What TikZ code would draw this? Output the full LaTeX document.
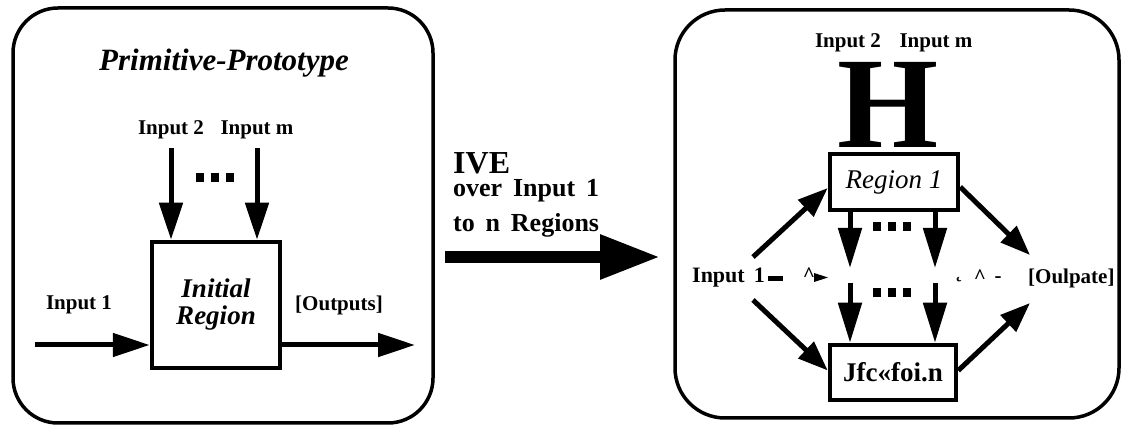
\documentclass[tikz,border=0pt]{standalone}
\usepackage{fontspec}
\setmainfont{Liberation Serif}
\usetikzlibrary{arrows.meta,calc}
\begin{document}
\begin{tikzpicture}[x=1pt,y=-1pt,
  panel/.style={draw,line width=3.5pt,rounded corners=45pt},
  boxnode/.style={draw,line width=4.5pt,inner sep=0pt},
  lbl/.style={inner sep=0pt,font=\fontsize{21}{21}\selectfont\bfseries},
  arr/.style={line width=5pt,-{Triangle[length=37pt,width=23pt]}},
  darr/.style={line width=5pt,-{Triangle[length=30pt,width=22pt]}},
  bigarr/.style={line width=12pt,-{Triangle[length=60pt,width=42pt]}},
  dotrow/.style={inner sep=0pt}
]
\useasboundingbox (0,0) rectangle (1122,427);
\newcommand{\sq}{\rule{8pt}{9pt}}
% ---------- left panel ----------
\draw[panel] (13,8) rectangle (433,423);
\node[inner sep=0pt,font=\fontsize{31}{31}\selectfont\bfseries\itshape] (title) at (224,63) {Primitive-Prototype};
\node[lbl] (in2) at (171,130) {Input 2};
\node[lbl] (inm) at (257,130) {Input m};
\node[dotrow] (dl) at (215,178) {\sq\hspace{7pt}\sq\hspace{7pt}\sq};
\node[boxnode,minimum width=128pt,minimum height=126pt,align=center,
      font=\fontsize{27}{27}\selectfont\bfseries\itshape] (init) at (216,305) {Initial\\Region};
\node[lbl] (in1) at (79,305) {Input 1};
\node[lbl] (outs) at (339,305) {[Outputs]};
\coordinate (in1s) at (35,345);
\coordinate (outt) at (415,345);
\draw[arr] (in2.south |- 0,148) -- (in2.south |- init.north);
\draw[arr] (inm.south |- 0,148) -- (inm.south |- init.north);
\draw[arr] (in1s) -- (in1s -| init.west);
\draw[arr] (init.east |- outt) -- (outt);
% ---------- middle ----------
\node[inner sep=0pt,anchor=west,font=\fontsize{32}{32}\selectfont\bfseries] (ive) at (453,163) {IVE};
\node[inner sep=0pt,anchor=west,font=\fontsize{26}{26}\selectfont\bfseries] (ov) at (453,191) {over\, Input\, 1};
\node[inner sep=0pt,anchor=west,font=\fontsize{26}{26}\selectfont\bfseries] (ton) at (453,225) {to\, n\, Regions};
\coordinate (bas) at (445,257);
\coordinate (bat) at (660,257);
\draw[bigarr] (bas) -- (bat);
% ---------- right panel ----------
\draw[panel,rounded corners=50pt] (675,10) rectangle (1119,418);
\node[lbl] (rin2) at (848,43) {Input 2};
\node[lbl] (rinm) at (936,43) {Input m};
\node[inner sep=0pt,anchor=base,text height=86pt,text depth=0pt,font=\fontsize{130}{130}\selectfont\bfseries] (bigH) at (888,148) {H};
\node[boxnode,minimum width=128pt,minimum height=56pt,
      font=\fontsize{27}{27}\selectfont\itshape] (r1) at (894,182) {Region 1};
\node[boxnode,minimum width=126pt,minimum height=55pt,
      font=\fontsize{27}{27}\selectfont\bfseries] (rn) at (893,372.5) {Jfc«foi.n};
\node[dotrow] (d1) at (892,227) {\sq\hspace{7pt}\sq\hspace{7pt}\sq};
\node[dotrow] (d2) at (892,293) {\sq\hspace{7pt}\sq\hspace{7pt}\sq};
\node[lbl,anchor=west,font=\fontsize{22}{22}\selectfont\bfseries] (rin1) at (692,278) {Input\, 1};
\node[inner sep=0pt] (g1) at (775,279) {\rule{15pt}{5pt}};
\node[lbl] (g2) at (809,275) {\^{}};
\fill (814,273) -- (828,277.5) -- (814,282) -- cycle;
\node[lbl] (g3) at (959,280) {˛};
\node[lbl] (g4) at (980,277) {\^{}};
\node[lbl] (g5) at (998,280) {-};
\node[lbl,anchor=west] (rout) at (1028,278) {[Oulpate]};
\coordinate (ca) at (850,268);
\coordinate (cb) at (935,268);
\coordinate (cc) at (850,283);
\coordinate (cd) at (935,283);
\draw[arr,-{Triangle[length=40pt,width=23pt]}] (r1.south -| ca) -- (ca);
\draw[arr,-{Triangle[length=40pt,width=23pt]}] (r1.south -| cb) -- (cb);
\draw[arr,-{Triangle[length=40pt,width=23pt]}] (cc) -- (cc |- rn.north);
\draw[arr,-{Triangle[length=40pt,width=23pt]}] (cd) -- (cd |- rn.north);
\coordinate (s1) at (753,257);
\coordinate (s2) at (753,300);
\coordinate (t1) at (1030,255);
\coordinate (t2) at (1030,303);
\draw[darr] (s1) -- ([yshift=-6pt]r1.west);
\draw[darr] ([yshift=-5pt]r1.east) -- (t1);
\draw[darr] (s2) -- ([yshift=2pt]rn.west);
\draw[darr] ([yshift=2pt]rn.east) -- (t2);
\end{tikzpicture}
\end{document}
